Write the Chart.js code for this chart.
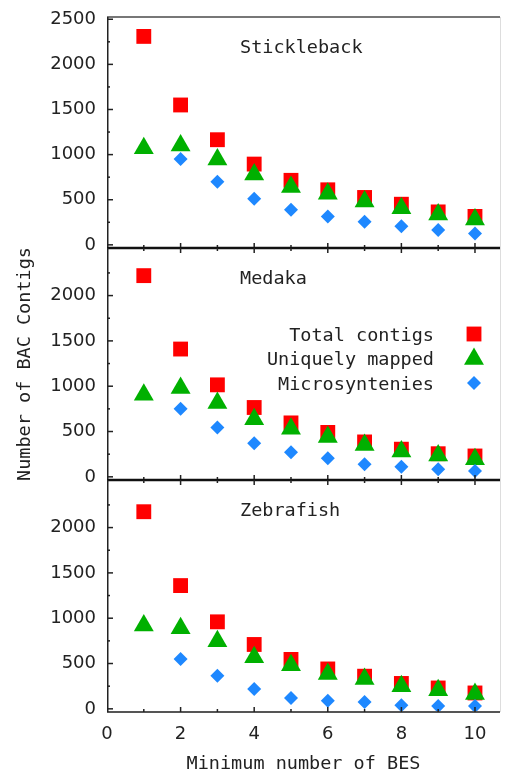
<!DOCTYPE html>
<html>
<head>
<meta charset="utf-8">
<script src="https://cdn.jsdelivr.net/npm/chart.js@4.4.0/dist/chart.umd.min.js"></script>
<style>
  html, body { margin: 0; padding: 0; background: #fff; }
  #wrap { position: relative; width: 506px; height: 775px; overflow: hidden; }
  #wrap canvas { position: absolute; left: 0; }
</style>
</head>
<body>
<div id="wrap">
  <canvas id="p1" width="506" height="262" style="top:0px"></canvas>
  <canvas id="p2" width="506" height="258" style="top:236px"></canvas>
  <canvas id="p3" width="506" height="307" style="top:468px"></canvas>
</div>
<script>
// x values: minimum number of BES
const minBES = [1, 2, 3, 4, 5, 6, 7, 8, 9, 10];

const sticklebackTotal  = [2310, 1550, 1165, 895, 715, 610, 525, 450, 365, 315];
const sticklebackUnique = [1070, 1100, 945, 780, 640, 565, 480, 405, 335, 280];
const sticklebackMicro  = [null, 950, 700, 510, 390, 315, 255, 205, 165, 125];

const medakaTotal  = [2220, 1410, 1015, 765, 595, 490, 385, 305, 255, 230];
const medakaUnique = [905, 980, 815, 635, 530, 440, 350, 280, 235, 195];
const medakaMicro  = [null, 750, 545, 370, 270, 205, 140, 110, 85, 65];

const zebrafishTotal  = [2175, 1360, 960, 710, 545, 440, 360, 280, 230, 175];
const zebrafishUnique = [920, 890, 745, 570, 480, 385, 330, 250, 205, 165];
const zebrafishMicro  = [null, 550, 365, 220, 120, 90, 75, 40, 30, 30];

const xTickLabels = [0, 2, 4, 6, 8, 10];
const xMinorTicks = [1, 3, 5, 7, 9];
const yTicksTop = [0, 500, 1000, 1500, 2000, 2500];
const yTicksLower = [0, 500, 1000, 1500, 2000];
const yMinorTicks = [250, 750, 1250, 1750, 2250];

const seriesNames = ["Total contigs", "Uniquely mapped", "Microsyntenies"];

const RED = "#ff0000";
const GREEN = "#00b000";
const BLUE = "#1e88ff";
const INK = "#222";
const monoFont = { family: "'DejaVu Sans Mono', monospace", size: 18.5 };
const tickFont = { family: "'DejaVu Sans', sans-serif", size: 18 };

const markers = [
  { style: "rect", r: 10.5, color: RED },
  { style: "triangle", r: 11.5, color: GREEN },
  { style: "rectRot", r: 7, color: BLUE }
];

function pts(arr) {
  return minBES.map((x, i) => ({ x: x, y: arr[i] }));
}

function line(ctx, x1, y1, x2, y2) {
  ctx.beginPath();
  ctx.moveTo(x1, y1);
  ctx.lineTo(x2, y2);
  ctx.stroke();
}

function drawMarker(ctx, m, x, y) {
  ctx.fillStyle = m.color;
  Chart.helpers.drawPoint(ctx, { pointStyle: m.style, radius: m.r, rotation: 0, borderWidth: 0 }, x, y);
}

// frame, inward ticks, panel label and legend
const panelDeco = {
  id: "panelDeco",
  afterDraw(chart, args, opts) {
    const ctx = chart.ctx;
    const a = chart.chartArea;
    const xs = chart.scales.x;
    const ys = chart.scales.y;
    ctx.save();

    ctx.strokeStyle = "#dddddd";
    ctx.lineWidth = 1;
    line(ctx, a.right + 0.5, a.top, a.right + 0.5, a.bottom);

    ctx.strokeStyle = opts.topColor;
    ctx.lineWidth = 2;
    line(ctx, a.left, a.top, a.right, a.top);

    ctx.strokeStyle = opts.bottomColor;
    ctx.lineWidth = opts.bottomWidth;
    line(ctx, a.left, a.bottom, a.right, a.bottom);

    ctx.strokeStyle = INK;
    ctx.lineWidth = 1.5;
    line(ctx, a.left + 0.75, a.top, a.left + 0.75, a.bottom);

    // y ticks (inward)
    opts.yTicks.forEach(v => {
      const y = ys.getPixelForValue(v);
      line(ctx, a.left, y, a.left + 6, y);
    });
    yMinorTicks.forEach(v => {
      const y = ys.getPixelForValue(v);
      if (y > a.top + 1) line(ctx, a.left, y, a.left + 3, y);
    });

    // x ticks (inward, bottom and top)
    xTickLabels.concat(xMinorTicks).forEach(v => {
      if (v === 0) return;
      const x = xs.getPixelForValue(v);
      const len = xTickLabels.includes(v) ? 5 : 3;
      line(ctx, x, a.bottom, x, a.bottom - len);
      if (opts.topTicks) line(ctx, x, a.top, x, a.top + len);
    });

    // panel label
    ctx.fillStyle = INK;
    ctx.font = monoFont.size + "px " + monoFont.family;
    ctx.textBaseline = "alphabetic";
    ctx.textAlign = "left";
    ctx.fillText(opts.label, a.left + 133, a.top + 36);

    // legend
    if (opts.legend) {
      const baseY = [93, 117, 142];
      const markY = [86, 111, 135];
      ctx.textAlign = "right";
      seriesNames.forEach((name, i) => {
        ctx.fillStyle = INK;
        ctx.fillText(name, a.right - 66, a.top + baseY[i]);
        drawMarker(ctx, markers[i], a.right - 26, a.top + markY[i]);
      });
    }
    ctx.restore();
  }
};

function makePanel(id, total, unique, micro, cfg) {
  const series = [total, unique, micro];
  return new Chart(document.getElementById(id), {
    type: "scatter",
    data: {
      datasets: series.map((arr, i) => ({
        label: seriesNames[i],
        data: pts(arr),
        pointStyle: markers[i].style,
        pointRadius: markers[i].r,
        pointHoverRadius: markers[i].r,
        backgroundColor: markers[i].color,
        borderWidth: 0,
        order: 3 - i
      }))
    },
    options: {
      responsive: false,
      animation: false,
      events: [],
      layout: { padding: cfg.padding, autoPadding: false },
      plugins: {
        legend: { display: false },
        tooltip: { enabled: false },
        panelDeco: cfg.deco
      },
      scales: {
        x: {
          type: "linear",
          min: 0,
          max: 10.68,
          display: cfg.showX,
          grid: { display: false, drawTicks: false },
          border: { display: false },
          afterBuildTicks: s => { s.ticks = xTickLabels.map(v => ({ value: v })); },
          afterFit: s => {
            if (cfg.showX) s.height = 63;
            s.paddingLeft = 0;
            s.paddingRight = 0;
          },
          ticks: { padding: 12, color: INK, font: tickFont, callback: v => String(v) },
          title: {
            display: cfg.showX,
            text: "Minimum number of BES",
            color: INK,
            font: monoFont,
            padding: { top: 0, bottom: 0 }
          }
        },
        y: {
          type: "linear",
          min: -35,
          max: 2525,
          grid: { display: false, drawTicks: false },
          border: { display: false },
          afterBuildTicks: s => { s.ticks = cfg.deco.yTicks.map(v => ({ value: v })); },
          afterFit: s => {
            s.width = 107;
            s.paddingTop = 0;
            s.paddingBottom = 0;
          },
          ticks: { padding: 11, color: INK, font: tickFont, callback: v => String(v) },
          title: {
            display: cfg.showYTitle,
            text: "Number of BAC Contigs",
            color: INK,
            font: monoFont,
            padding: { top: 14, bottom: 0 }
          }
        }
      }
    },
    plugins: [panelDeco]
  });
}

makePanel("p1", sticklebackTotal, sticklebackUnique, sticklebackMicro, {
  padding: { top: 17, bottom: 14, left: 0, right: 6 },
  showX: false,
  showYTitle: false,
  deco: { label: "Stickleback", legend: false, yTicks: yTicksTop, topTicks: false,
          topColor: "#777", bottomColor: "#111", bottomWidth: 2.5 }
});

makePanel("p2", medakaTotal, medakaUnique, medakaMicro, {
  padding: { top: 12, bottom: 14, left: 0, right: 6 },
  showX: false,
  showYTitle: true,
  deco: { label: "Medaka", legend: true, yTicks: yTicksLower, topTicks: true,
          topColor: "#111", bottomColor: "#111", bottomWidth: 2.5 }
});

makePanel("p3", zebrafishTotal, zebrafishUnique, zebrafishMicro, {
  padding: { top: 12, bottom: 0, left: 0, right: 6 },
  showX: true,
  showYTitle: false,
  deco: { label: "Zebrafish", legend: false, yTicks: yTicksLower, topTicks: true,
          topColor: "#111", bottomColor: "#555", bottomWidth: 2 }
});
</script>
</body>
</html>
